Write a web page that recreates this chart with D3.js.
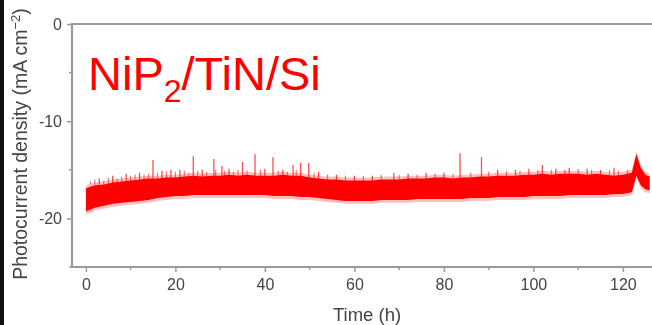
<!DOCTYPE html>
<html>
<head>
<meta charset="utf-8">
<script src="https://cdn.jsdelivr.net/npm/d3@7"></script>
<style>
  html, body { margin: 0; padding: 0; background: #fff; }
  svg { display: block; font-family: "Liberation Sans", Arial, sans-serif; }
</style>
</head>
<body>
<svg id="grafico"></svg>
<script>
// valores (densidade de fotocorrente, mA cm-2)
const tempos = [0, 2, 4, 6, 8, 10, 12, 14, 16, 18, 20, 22, 24, 26, 28, 30, 32, 34, 36, 38, 40, 42, 44, 46, 48, 50,
    52, 54, 56, 58, 60, 62, 64, 66, 68, 70, 72, 74, 76, 78, 80, 82, 84, 86, 88, 90, 92, 94, 96, 98, 100,
    102, 104, 106, 108, 110, 112, 114, 116, 118, 120, 122, 123, 124, 125, 126];
const topoBanda = [-16.9, -16.6, -16.5, -16.3, -16.2, -16.1, -16.0, -15.9, -15.9, -15.8, -15.8, -15.7, -15.6, -15.7,
    -15.6, -15.6, -15.5, -15.6, -15.5, -15.6, -15.6, -15.6, -15.5, -15.6, -15.6, -15.8, -15.9, -16.0, -16.0, -16.1,
    -16.1, -16.1, -16.1, -16.0, -16.0, -16.0, -15.9, -15.9, -15.9, -15.8, -15.8, -15.9, -15.8, -15.8, -15.7, -15.7,
    -15.6, -15.6, -15.6, -15.5, -15.5, -15.4, -15.5, -15.4, -15.4, -15.4, -15.5, -15.4, -15.5, -15.6, -15.5, -15.3,
    -13.4, -14.8, -15.5, -15.7];
const baseBanda = [-19.3, -18.9, -18.7, -18.5, -18.4, -18.3, -18.2, -18.1, -17.9, -17.8, -17.7, -17.7, -17.6, -17.6,
    -17.6, -17.6, -17.6, -17.6, -17.6, -17.6, -17.6, -17.7, -17.7, -17.7, -17.8, -17.8, -17.9, -18.0, -18.1, -18.2,
    -18.2, -18.2, -18.2, -18.1, -18.1, -18.1, -18.1, -18.0, -18.0, -18.0, -18.0, -18.0, -18.0, -17.9, -17.9, -17.9,
    -17.8, -17.8, -17.8, -17.8, -17.7, -17.7, -17.7, -17.7, -17.6, -17.6, -17.6, -17.6, -17.6, -17.5, -17.5, -17.3,
    -15.6, -16.6, -17.0, -17.1];
const picosTempo = [3, 6, 9, 12, 15, 17, 19, 21, 24, 26, 28.6, 30.4, 32, 35, 37.8, 40, 41.8, 44, 46.3, 48, 49.8,
    52, 56, 60, 64, 68.8, 72, 76, 80, 83.6, 88.4, 92, 96, 99, 102, 105, 108, 112, 115, 118];
const picosValor = [-15.9, -15.6, -15.4, -15.3, -14.0, -15.1, -15.0, -15.0, -13.6, -15.0, -13.9, -14.6, -14.9, -14.2,
    -13.4, -14.9, -13.7, -15.0, -14.5, -14.3, -14.3, -15.2, -15.5, -15.6, -15.6, -15.3, -15.4, -15.3, -15.3, -13.3,
    -13.7, -15.0, -15.0, -14.9, -14.5, -14.9, -14.8, -14.9, -15.0, -14.8];
// ruido fino no topo da banda
const franjaTempo = [1, 2, 4, 5, 7, 8, 10, 11, 13, 14, 16, 18, 20, 22, 23, 25, 27, 29, 31, 33, 34, 36, 39, 43, 45,
    47, 51, 54, 58, 62, 66, 70, 74, 78, 82, 86, 90, 94, 97, 101, 104, 107, 110, 113, 117, 119, 121];
const franjaValor = [-16.2, -16.0, -16.1, -15.8, -15.9, -15.7, -15.6, -15.5, -15.5, -15.4, -15.3, -15.2, -15.2, -15.1,
    -15.3, -15.1, -15.2, -15.0, -15.1, -15.2, -15.0, -15.1, -15.0, -15.1, -15.2, -15.0, -15.3, -15.5, -15.6, -15.6,
    -15.5, -15.5, -15.5, -15.4, -15.4, -15.3, -15.2, -15.1, -15.1, -15.0, -15.0, -15.0, -14.9, -15.0, -15.0, -15.1, -15.0];
const ticksX = [0, 20, 40, 60, 80, 100, 120];
const ticksXmenor = [10, 30, 50, 70, 90, 110];
const ticksY = [0, -10, -20];
const ticksYmenor = [-5, -15, -25];

const largura = 652, altura = 325;
const corEixo = '#9a9a9a', corTexto = '#444', vermelho = '#ff0000';

let svg = d3.select('#grafico').attr('width', largura).attr('height', altura);

let defs = svg.append('defs');
defs.append('filter').attr('id', 'suave')
    .append('feGaussianBlur').attr('stdDeviation', 0.55);
defs.append('filter').attr('id', 'suaveTexto')
    .append('feGaussianBlur').attr('stdDeviation', 0.35);

let fnX = d3.scaleLinear().domain([-3.1, 126.5]).range([72, 652]);
let fnY = d3.scaleLinear().domain([-25, 0]).range([267, 24]);

let dados = tempos.map((t, i) => ({ t: t, topo: topoBanda[i], base: baseBanda[i] }));
let picos = picosTempo.map((t, i) => ({ t: t, v: picosValor[i] }));
let franja = franjaTempo.map((t, i) => ({ t: t, v: franjaValor[i] }));

// borda preta da esquerda
svg.append('rect').attr('x', 0).attr('y', 0).attr('width', 4).attr('height', altura).attr('fill', '#111');

let plotagem = svg.append('g').attr('filter', 'url(#suave)');

plotagem.append('path')
    .datum(dados)
    .attr('fill', vermelho)
    .attr('fill-opacity', 0.25)
    .attr('d', d3.area().x(d => fnX(d.t)).y0(d => fnY(d.base - 0.3)).y1(d => fnY(d.topo + 0.3)));

plotagem.append('path')
    .datum(dados)
    .attr('fill', vermelho)
    .attr('d', d3.area().x(d => fnX(d.t)).y0(d => fnY(d.base)).y1(d => fnY(d.topo)));

plotagem.selectAll('.franja').data(franja).enter().append('line').classed('franja', true)
    .attr('x1', d => fnX(d.t)).attr('x2', d => fnX(d.t))
    .attr('y1', d => fnY(d.v)).attr('y2', fnY(-16.5))
    .attr('stroke', vermelho).attr('stroke-width', 1.2).attr('stroke-opacity', 0.55);

plotagem.selectAll('.pico').data(picos).enter().append('line').classed('pico', true)
    .attr('x1', d => fnX(d.t)).attr('x2', d => fnX(d.t))
    .attr('y1', d => fnY(d.v)).attr('y2', fnY(-16.5))
    .attr('stroke', vermelho).attr('stroke-width', 1.3).attr('stroke-opacity', 0.7);

// eixos
let eixoX = d3.axisBottom(fnX).tickValues(ticksX).tickSize(5).tickPadding(7).tickFormat(d3.format('d'));
let gX = svg.append('g').attr('transform', 'translate(0,' + fnY(-25) + ')').call(eixoX);
let eixoY = d3.axisLeft(fnY).tickValues(ticksY).tickSize(5).tickPadding(5).tickFormat(d => d === 0 ? '0' : String(d));
let gY = svg.append('g').attr('transform', 'translate(' + fnX(-3.1) + ',0)').call(eixoY);

[gX, gY].forEach(g => {
    g.select('.domain').remove();
    g.selectAll('line').attr('stroke', corEixo).attr('stroke-width', 1.5);
    g.selectAll('text').attr('fill', corTexto).style('font-size', '16px').attr('filter', 'url(#suaveTexto)');
});

gX.selectAll('.menor').data(ticksXmenor).enter().append('line').classed('menor', true)
    .attr('x1', d => fnX(d)).attr('x2', d => fnX(d)).attr('y1', 0).attr('y2', 3)
    .attr('stroke', corEixo).attr('stroke-width', 1.5);
gY.selectAll('.menor').data(ticksYmenor).enter().append('line').classed('menor', true)
    .attr('y1', d => fnY(d)).attr('y2', d => fnY(d)).attr('x1', 0).attr('x2', -3)
    .attr('stroke', corEixo).attr('stroke-width', 1.5);

// linhas do quadro
svg.append('line').attr('x1', fnX(-3.1)).attr('x2', largura).attr('y1', fnY(-25)).attr('y2', fnY(-25))
    .attr('stroke', corEixo).attr('stroke-width', 2.2);
svg.append('line').attr('x1', fnX(-3.1)).attr('x2', largura).attr('y1', fnY(0)).attr('y2', fnY(0))
    .attr('stroke', corEixo).attr('stroke-width', 2.2);
svg.append('line').attr('x1', fnX(-3.1)).attr('x2', fnX(-3.1)).attr('y1', fnY(0) - 1).attr('y2', fnY(-25) + 1)
    .attr('stroke', corEixo).attr('stroke-width', 2.2);

// titulos
svg.append('text')
    .attr('x', 367).attr('y', 321)
    .attr('text-anchor', 'middle')
    .attr('fill', corTexto)
    .attr('filter', 'url(#suaveTexto)')
    .style('font-size', '18.5px')
    .text('Time (h)');

let tituloY = svg.append('text')
    .attr('transform', 'translate(27,144) rotate(-90)')
    .attr('text-anchor', 'middle')
    .attr('fill', corTexto)
    .attr('filter', 'url(#suaveTexto)')
    .style('font-size', '19.5px');
tituloY.append('tspan').text('Photocurrent density (mA cm');
tituloY.append('tspan').attr('dy', -7).style('font-size', '13px').text('\u22122');
tituloY.append('tspan').attr('dy', 7).text(')');

let rotulo = svg.append('text')
    .attr('x', 88).attr('y', 90)
    .attr('fill', vermelho)
    .style('font-size', '47px');
rotulo.append('tspan').text('NiP');
rotulo.append('tspan').attr('dy', 12).style('font-size', '32px').text('2');
rotulo.append('tspan').attr('dy', -12).text('/TiN/Si');
</script>
</body>
</html>
